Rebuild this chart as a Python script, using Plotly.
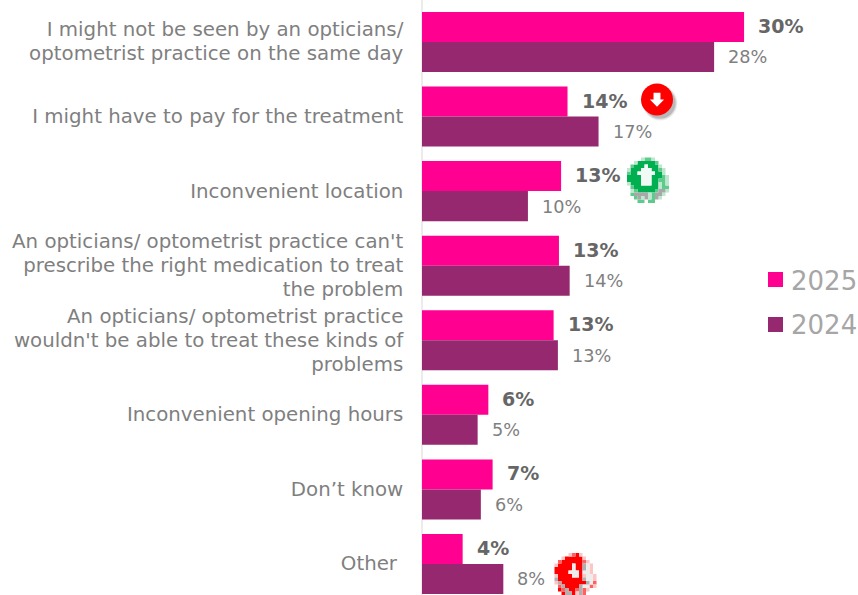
import plotly.graph_objects as go

categories = [
    "I might not be seen by an opticians/<br>optometrist practice on the same day",
    "I might have to pay for the treatment",
    "Inconvenient location",
    "An opticians/ optometrist practice can't<br>prescribe the right medication to treat<br>the problem",
    "An opticians/ optometrist practice<br>wouldn't be able to treat these kinds of<br>problems",
    "Inconvenient opening hours",
    "Don’t know",
    "Other&nbsp;",
]
values_2025 = [30.1, 13.6, 13.0, 12.8, 12.3, 6.2, 6.6, 3.8]
values_2024 = [27.3, 16.5, 9.9, 13.8, 12.7, 5.2, 5.5, 7.6]
labels_2025 = ["30%", "14%", "13%", "13%", "13%", "6%", "7%", "4%"]
labels_2024 = ["28%", "17%", "10%", "14%", "13%", "5%", "6%", "8%"]
series_names = ["2025", "2024"]

GREEN_ICON = [
    ".....lggl....",
    "...lGGGGGg...",
    "..gGGGWGGGl..",
    ".lGGGWWWGGgl.",
    ".gGGWWWWWGGl.",
    ".GGGGWWWGGGgl",
    ".GGGGWWWGGggl",
    ".lGGGWWWGGlgl",
    "..gGGGGGGGlgg",
    "..lgGGGGGgssl",
    "..gsssslgssl.",
    "...gslslgsl..",
    "....gg.gg....",
]
RED_ICON = [
    ".....lgGl....",
    "...lGGGGGl...",
    "..gGGGGGGgl..",
    ".lGGGGWGGsWl.",
    ".GGGGGWGGsWl.",
    ".GGGGWWWGWWl.",
    ".lGGGGWWGlWWl",
    ".sGGGGGGGsWWl",
    ".lsGGGGGGGsWg",
    "..gsGGGGsWWgl",
    "..GgsGGgsgl..",
    "...GssGlsg...",
    "....Gs.Gs....",
]
GREEN_COLORS = {"G": "#00B050", "g": "#5CCB8C", "l": "#BDE8CF", "W": "#F2FAF5", "s": "#A8A8A8"}
RED_COLORS = {"G": "#FF0000", "g": "#FF6060", "l": "#FFC4C4", "W": "#EDEDED", "s": "#B0B0B0"}
COLORS = ["#FF0090", "#95286E"]

FONT = "DejaVu Sans, Verdana, sans-serif"
W, H = 858, 595
pos = list(range(len(categories)))


def tick(t):
    return f'<span style="font-size:19.8px">{t}</span>'


fig = go.Figure()
fig.add_bar(name=series_names[0], y=pos, x=values_2025, orientation="h",
            marker_color=COLORS[0], marker_line_width=0)
fig.add_bar(name=series_names[1], y=pos, x=values_2024, orientation="h",
            marker_color=COLORS[1], marker_line_width=0)

ann = []
for i, (a, b, la, lb) in enumerate(zip(values_2025, values_2024, labels_2025, labels_2024)):
    ann.append(dict(x=a, y=i, yshift=16, xshift=12, text=f"<b>{la}</b>", xanchor="left", yanchor="middle",
                    showarrow=False, font=dict(family=FONT, size=19, color="#666666")))
    ann.append(dict(x=b, y=i, yshift=-15.5, xshift=12, text=lb, xanchor="left", yanchor="middle",
                    showarrow=False, font=dict(family=FONT, size=17.7, color="#7F7F7F")))


def fx(x):
    return (x - 422) / (W - 422)


def fy(y):
    return 1 - y / H


for name, cy in zip(series_names, (281, 325)):
    ann.append(dict(xref="paper", yref="paper", x=fx(789), y=fy(cy), text=name, xanchor="left",
                    yanchor="middle", showarrow=False,
                    font=dict(family=FONT, size=26, color="#A6A6A6")))


def circ(cx, cy, r, **k):
    return dict(type="circle", xref="x domain", yref="y domain",
                x0=fx(cx - r), x1=fx(cx + r), y0=fy(cy + r), y1=fy(cy - r), **k)


def path(d, **k):
    return dict(type="path", xref="x domain", yref="y domain", path=d, line_width=0, **k)


def poly(points):
    return "M" + "L".join(f"{fx(x)},{fy(y)}" for x, y in points) + "Z"


def arrow(cx, cy, s):
    pts = [(-.33, -.65), (.33, -.65), (.33, 0), (.68, 0), (0, .7), (-.68, 0), (-.33, 0)]
    return [(cx + x * s, cy + y * s) for x, y in pts]


def pixel_icon(pattern, colors, x0, y0, cell=3.5):
    out = []
    for key, col in colors.items():
        d = ""
        for r, row in enumerate(pattern):
            for c, ch in enumerate(row):
                if ch == key:
                    xa, ya = x0 + c * cell, y0 + r * cell
                    d += poly([(xa, ya), (xa + cell, ya), (xa + cell, ya + cell), (xa, ya + cell)])
        out.append(path(d, fillcolor=col))
    return out


shapes = [circ(660, 103, 17.5, fillcolor="rgba(120,120,120,0.12)", line_width=0),
          circ(660, 103, 16.5, fillcolor="rgba(110,110,110,0.18)", line_width=0),
          circ(660, 103, 15.5, fillcolor="rgba(90,90,90,0.25)", line_width=0),
          circ(657, 99.5, 16, fillcolor="#FF0000", line_width=0),
          path(poly(arrow(657, 99.5, 10.5)), fillcolor="white")]
shapes += pixel_icon(GREEN_ICON, GREEN_COLORS, 623.5, 157.5)
shapes += pixel_icon(RED_ICON, RED_COLORS, 551, 553)
for col, y0 in zip(COLORS, (272, 317)):
    shapes.append(dict(type="rect", xref="paper", yref="paper", x0=fx(768), x1=fx(783),
                       y0=fy(y0 + 15), y1=fy(y0), fillcolor=col, line_width=0))
shapes.append(dict(type="line", xref="x domain", yref="paper", x0=0, x1=0, y0=0, y1=1,
                   line=dict(color="#D9D9D9", width=1), layer="below"))

fig.update_layout(
    width=W, height=H, autosize=False,
    margin=dict(l=422, r=0, t=0, b=0, autoexpand=False),
    plot_bgcolor="white", paper_bgcolor="white",
    barmode="group", bargap=0.195, bargroupgap=0,
    font=dict(family=FONT),
    annotations=ann, shapes=shapes,
    xaxis=dict(range=[0, (W - 422) / 10.7], visible=False),
    yaxis=dict(range=[7.416, -0.563], tickmode="array", tickvals=pos,
               ticktext=[tick(c) for c in categories], ticks="outside", ticklen=14,
               tickcolor="rgba(0,0,0,0)", showgrid=False, zeroline=False,
               showline=False, tickfont=dict(family=FONT, size=18.46, color="#7F7F7F")),
    showlegend=False,
)
fig.write_html("out.html", config={"displayModeBar": False},
               post_script="document.body.style.margin='0';")
